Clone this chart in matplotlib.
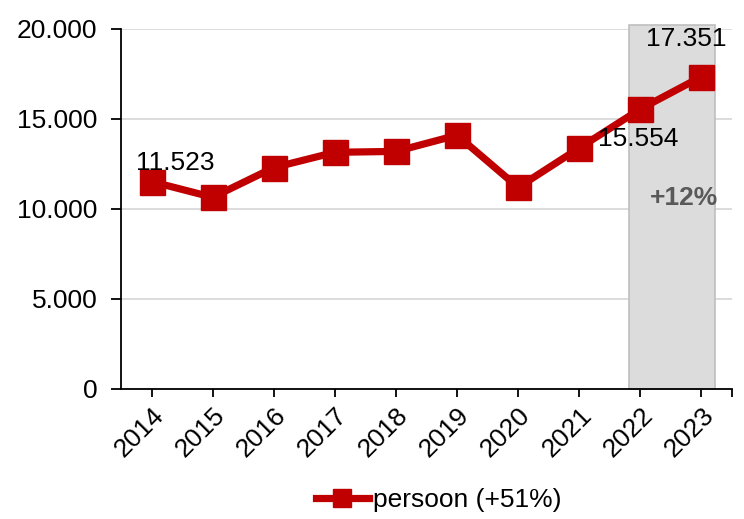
import numpy as np
import matplotlib.pyplot as plt
from matplotlib.patches import Rectangle

# %% DATA
years  = ['2014', '2015', '2016', '2017', '2018', '2019', '2020', '2021', '2022', '2023']
values = [11523, 10650, 12300, 13150, 13200, 14100, 11200, 13390, 15554, 17351]
labelled = {0: '11.523', 8: '15.554', 9: '17.351'}
yticks = [0, 5000, 10000, 15000, 20000]
ytick_labels = ['0', '5.000', '10.000', '15.000', '20.000']

red = '#C00000'
fs = 19
plt.rcParams['font.family'] = ['Liberation Sans', 'DejaVu Sans']

# %% PLOT
fig = plt.figure(figsize=(7.44, 5.19), dpi=100)
ax = fig.add_axes([121/744, 1 - 389/519, (732 - 121)/744, (389 - 29)/519])

x = np.arange(len(years))

# shaded highlight of last period
ax.add_patch(Rectangle((7.81, 0), 1.41, 20220, facecolor='#DCDCDC',
                       edgecolor='#BFBFBF', linewidth=1.2, zorder=1, clip_on=False))

ax.plot(x, values, '-s', color=red, linewidth=5.2, markersize=18,
        label='persoon (+51%)', zorder=3)

ax.set_xlim(-0.5, 9.5)
ax.set_ylim(0, 20000)
ax.set_yticks(yticks)
ax.set_yticklabels(ytick_labels, fontsize=fs)
ax.set_xticks(list(x) + [9.5])
ax.set_xticklabels(years + [''], fontsize=fs, rotation=45, ha='right',
                   rotation_mode='anchor')
ax.tick_params(axis='y', length=7, width=1.3, pad=10)
ax.tick_params(axis='x', length=6, width=1.3, pad=4)
ax.grid(axis='y', color='#D9D9D9', linewidth=1.3, zorder=0)
ax.set_axisbelow(True)
ax.spines['top'].set_visible(False)
ax.spines['right'].set_visible(False)
ax.spines['left'].set_linewidth(1.3)
ax.spines['bottom'].set_linewidth(1.3)

# data labels
ax.text(-0.25, 11900, labelled[0], fontsize=fs, ha='left', va='bottom', zorder=4)
ax.text(7.3, 13250, labelled[8], fontsize=fs, ha='left', va='bottom', zorder=4)
ax.text(8.1, 18750, labelled[9], fontsize=fs, ha='left', va='bottom', zorder=4)
ax.text(8.72, 10600, '+12%', fontsize=fs, fontweight='bold', color='#595959',
        ha='center', va='center', zorder=4)

ax.legend(loc='center', bbox_to_anchor=(0.52, -0.308), frameon=False,
          fontsize=fs, handlelength=2.0, handletextpad=0.15, markerscale=0.72,
          borderpad=0)

fig.savefig('out.png', dpi=100)
